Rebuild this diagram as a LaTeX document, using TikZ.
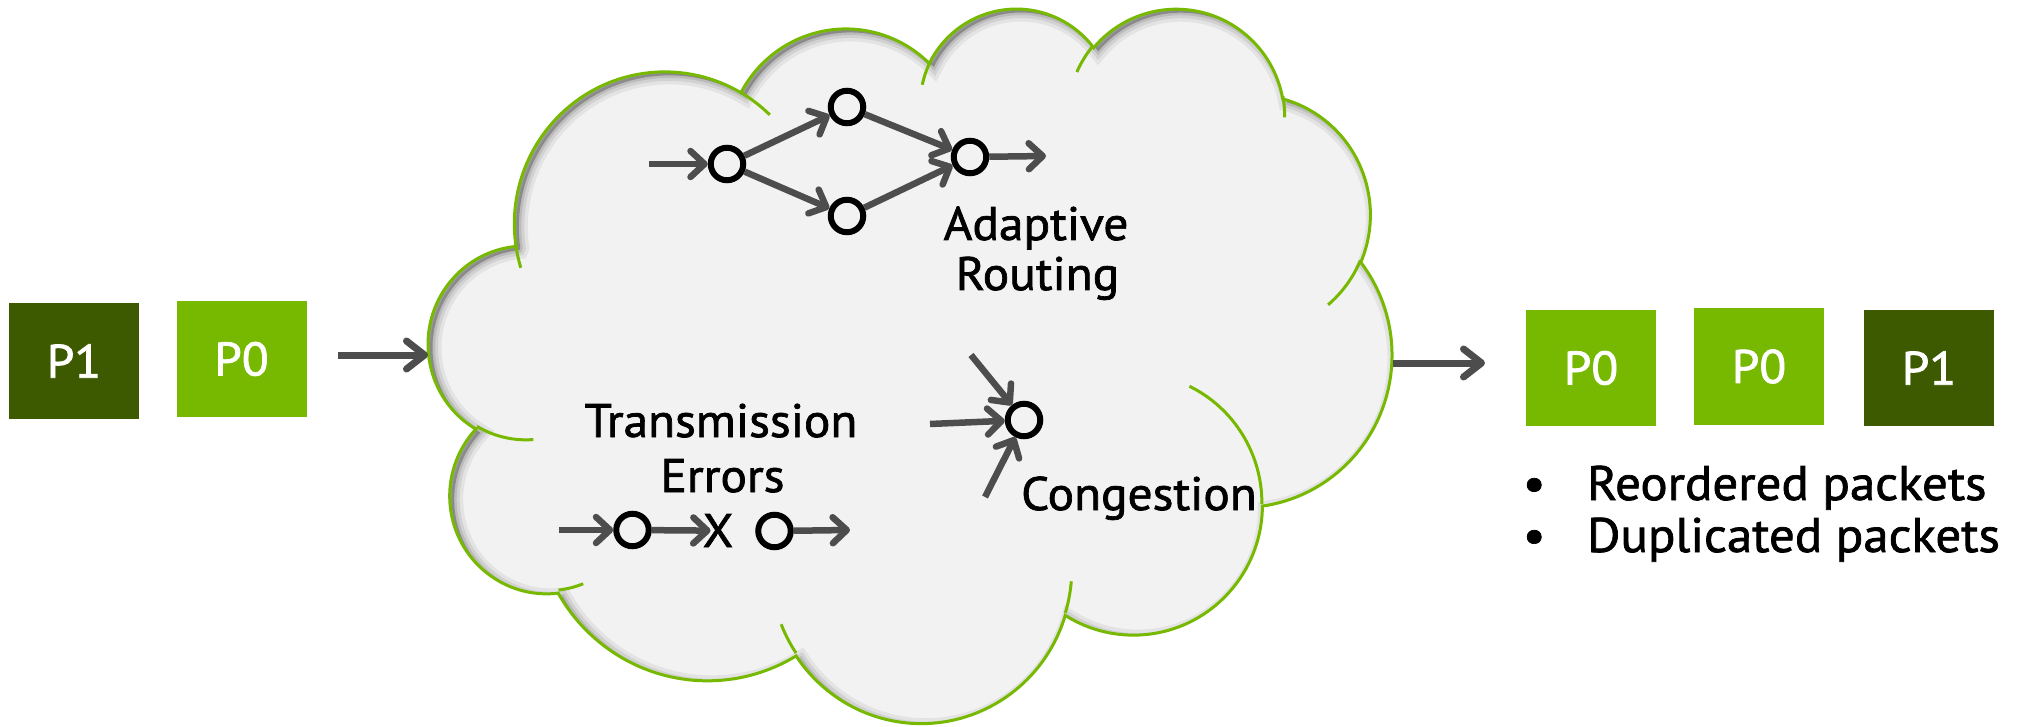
\documentclass[tikz,border=0pt]{standalone}
\usepackage{fontspec}
\setmainfont[FakeStretch=1.05,FakeBold=1.5]{PT Sans}
\usetikzlibrary{arrows.meta}

\definecolor{nvgreen}{RGB}{118,185,0}
\definecolor{nvdark}{RGB}{61,90,0}
\definecolor{cloudgray}{RGB}{242,242,242}
\definecolor{flowgray}{RGB}{77,77,77}

% Elliptic arcs given by a visual start angle and sweep (cloud outline):
% convert to the parametric angles that TikZ's arc operation expects.
\newcommand\cldang[5]{%
  \pgfmathsetmacro\cldtmpa{atan2((#2)*sin(#4),(#3)*cos(#4))}%
  \pgfmathsetmacro\cldtmpb{atan2((#2)*sin((#4)+(#5)),(#3)*cos((#4)+(#5)))}%
  \pgfmathsetmacro\cldtmpd{Mod((\cldtmpb)-(\cldtmpa),360)}%
  \ifdim #5pt<0pt \pgfmathsetmacro\cldtmpd{\cldtmpd-360}\fi
  \expandafter\xdef\csname clds#1\endcsname{\cldtmpa}%
  \expandafter\xdef\csname cldd#1\endcsname{\cldtmpd}}

% outer outline of the cloud (box 432 x 432 units)
\newcommand\cldoutline{(39.00,143.70)
  arc[start angle=\cldsA,delta angle=\clddA,x radius=67.53,y radius=91.90]
  arc[start angle=\cldsB,delta angle=\clddB,x radius=53.33,y radius=72.67]
  arc[start angle=\cldsC,delta angle=\clddC,x radius=43.65,y radius=59.45]
  arc[start angle=\cldsD,delta angle=\clddD,x radius=48.57,y radius=65.95]
  arc[start angle=\cldsE,delta angle=\clddE,x radius=53.33,y radius=72.73]
  arc[start angle=\cldsF,delta angle=\clddF,x radius=67.75,y radius=92.20]
  arc[start angle=\cldsG,delta angle=\clddG,x radius=57.85,y radius=78.67]
  arc[start angle=\cldsH,delta angle=\clddH,x radius=67.52,y radius=92.15]
  arc[start angle=\cldsI,delta angle=\clddI,x radius=77.20,y radius=105.43]
  arc[start angle=\cldsJ,delta angle=\clddJ,x radius=43.60,y radius=59.18]
  arc[start angle=\cldsK,delta angle=\clddK,x radius=43.45,y radius=59.45]
  -- cycle}

% the short arcs inside the cloud where the lobes overlap
\newcommand\cldinner{(46.93,261.77)
  arc[start angle=\cldsa,delta angle=\cldda,x radius=43.45,y radius=59.45]
  (69.28,348.99)
  arc[start angle=\cldsb,delta angle=\clddb,x radius=43.60,y radius=59.18]
  (164.78,390.90)
  arc[start angle=\cldsc,delta angle=\clddc,x radius=67.52,y radius=92.15]
  (288.27,347.51)
  arc[start angle=\cldsd,delta angle=\clddd,x radius=67.52,y radius=92.15]
  (341.29,229.54)
  arc[start angle=\cldse,delta angle=\cldde,x radius=57.85,y radius=78.67]
  (417.98,153.54)
  arc[start angle=\cldsf,delta angle=\clddf,x radius=53.33,y radius=72.73]
  (383.24,54.26)
  arc[start angle=\cldsg,delta angle=\clddg,x radius=48.57,y radius=65.95]
  (290.78,39.52)
  arc[start angle=\cldsh,delta angle=\clddh,x radius=48.57,y radius=65.95]
  (221.41,47.20)
  arc[start angle=\cldsi,delta angle=\clddi,x radius=43.65,y radius=59.45]
  (140.00,51.92)
  arc[start angle=\cldsj,delta angle=\clddj,x radius=67.53,y radius=91.90]
  (41.27,157.89)
  arc[start angle=\cldsk,delta angle=\clddk,x radius=67.53,y radius=91.90]}

\begin{document}
\begin{tikzpicture}[x=1pt,y=-1pt,
  packet/.style={minimum width=130pt,minimum height=116pt,inner sep=0pt,
    text=white,font=\fontsize{47}{50}\selectfont},
  pktlight/.style={packet,fill=nvgreen},
  pktdark/.style={packet,fill=nvdark},
  hop/.style={circle,draw=black,line width=6pt,minimum size=32.5pt,inner sep=0pt},
  flow/.style={draw=flowgray,line width=6.5pt,
    -{Straight Barb[length=14pt,width=26pt,round]}},
  bigflow/.style={draw=flowgray,line width=7pt,
    -{Straight Barb[length=18pt,width=28pt,round]}},
  txt/.style={font=\fontsize{47}{50}\selectfont,inner sep=0pt,anchor=base},
  bullettxt/.style={txt,font=\fontsize{48.5}{50}\selectfont,anchor=base west},
  cloudline/.style={draw=nvgreen,line width=3pt}]

\useasboundingbox (0,0) rectangle (2024,727);
\fill[white] (0,0) rectangle (2024,727);

% arc angles of the cloud outline
\cldang{A}{67.53}{91.90}{-190.4875}{123.7805}
\cldang{B}{53.33}{72.67}{-144.1024}{89.9452}
\cldang{C}{43.65}{59.45}{-145.8079}{99.7230}
\cldang{D}{48.57}{65.95}{-130.9861}{117.2417}
\cldang{E}{53.33}{72.73}{-78.7089}{109.0269}
\cldang{F}{67.75}{92.20}{-46.2673}{130.2690}
\cldang{G}{57.85}{78.67}{0.6250}{114.0333}
\cldang{H}{67.52}{92.15}{22.4516}{115.1726}
\cldang{I}{77.20}{105.43}{66.2426}{75.7110}
\cldang{J}{43.60}{59.18}{-274.9421}{146.7356}
\cldang{K}{43.45}{59.45}{-246.8285}{152.5189}
\cldang{a}{43.45}{59.45}{86.7420}{26.4295}
\cldang{b}{43.60}{59.18}{73.6105}{11.4475}
\cldang{c}{67.52}{92.15}{137.6242}{14.0811}
\cldang{d}{67.52}{92.15}{6.4533}{15.9984}
\cldang{e}{57.85}{78.67}{-70.2924}{70.9174}
\cldang{f}{53.33}{72.73}{30.3180}{27.7515}
\cldang{g}{48.57}{65.95}{-13.7443}{14.8589}
\cldang{h}{48.57}{65.95}{-149.1815}{18.1954}
\cldang{i}{43.65}{59.45}{-163.4943}{17.6864}
\cldang{j}{67.53}{91.90}{-66.7070}{12.3194}
\cldang{k}{67.53}{91.90}{157.6544}{11.8582}

% ---- the network cloud ----
\begin{scope}[shift={(428.8,6.7)},x=2.2287pt,y=-1.6535pt]
  \fill[cloudgray] \cldoutline;
  % inner shadow along the upper left edges
  \begin{scope}
    \clip \cldoutline;
    \begin{scope}[shift={(4.5pt,-3.5pt)}]
      \fill[black,opacity=.26,even odd rule] (-100,-100) rectangle (600,600) \cldoutline;
      \draw[black,opacity=.06,line width=18pt] \cldoutline;
      \draw[black,opacity=.08,line width=11pt] \cldoutline;
      \draw[black,opacity=.10,line width=5pt] \cldoutline;
    \end{scope}
  \end{scope}
  \draw[cloudline] \cldoutline;
  \draw[cloudline] \cldinner;
\end{scope}
\coordinate (cloudW) at (428,355);
\coordinate (cloudE) at (1393,363);

% ---- packets sent ----
\node[pktdark]  (inP1) at (74,361)   {P1};
\node[pktlight] (inP0) at (241.5,359) {P0};
\coordinate (inTail) at (338,355);
\draw[bigflow] (inTail) -- (cloudW);

% ---- packets received ----
\coordinate (outTip) at (1485,363);
\draw[bigflow] (cloudE) -- (outTip);
\node[pktlight] (outP0a) at (1591,368)   {P0};
\node[pktlight] (outP0b) at (1759,366.5) {P0};
\node[pktdark]  (outP1)  at (1929,368)   {P1};
\node[bullettxt] (bulA) at (1534,500)
  {\makebox[0pt][c]{•}\hspace{53pt}Reordered packets};
\node[bullettxt] (bulB) at (1534,552)
  {\makebox[0pt][c]{•}\hspace{53pt}Duplicated packets};

% ---- adaptive routing ----
\node[hop] (ar1) at (727,164) {};
\node[hop] (ar2) at (847,107) {};
\node[hop] (ar3) at (847,216) {};
\node[hop] (ar4) at (970,157) {};
\coordinate (arIn)  at (649,164);
\coordinate (arOut) at (1046,156);
\draw[flow] (arIn) -- (ar1);
\draw[flow] (ar1) -- (ar2);
\draw[flow] (ar1) -- (ar3);
\draw[flow] (ar2) -- (ar4);
\draw[flow] (ar3) -- (ar4);
\draw[flow] (ar4) -- (arOut);
\node[txt] (arText1) at (1036,240)   {Adaptive};
\node[txt] (arText2) at (1037.5,290) {Routing};

% ---- congestion ----
\node[hop] (cg) at (1024,420) {};
\coordinate (cgA) at (971,355);
\coordinate (cgB) at (930,424);
\coordinate (cgC) at (985,497);
\draw[flow] (cgA) -- (cg);
\draw[flow] (cgB) -- (cg);
\draw[flow] (cgC) -- (cg);
\node[txt] (cgText) at (1139,510) {Congestion};

% ---- transmission errors ----
\node[txt] (teText1) at (721,437)   {Transmission};
\node[txt] (teText2) at (722.5,492) {Errors};
\node[hop] (te1) at (632.5,530) {};
\node[hop] (te2) at (774.5,531) {};
\node[txt] (teX) at (718,547) {X};
\coordinate (teIn)  at (559,530);
\coordinate (teOut) at (850,530);
\draw[flow] (teIn) -- (te1);
\draw[flow,shorten >=-8pt] (te1) -- (teX.west);
\draw[flow] (te2) -- (teOut);
\end{tikzpicture}
\end{document}
